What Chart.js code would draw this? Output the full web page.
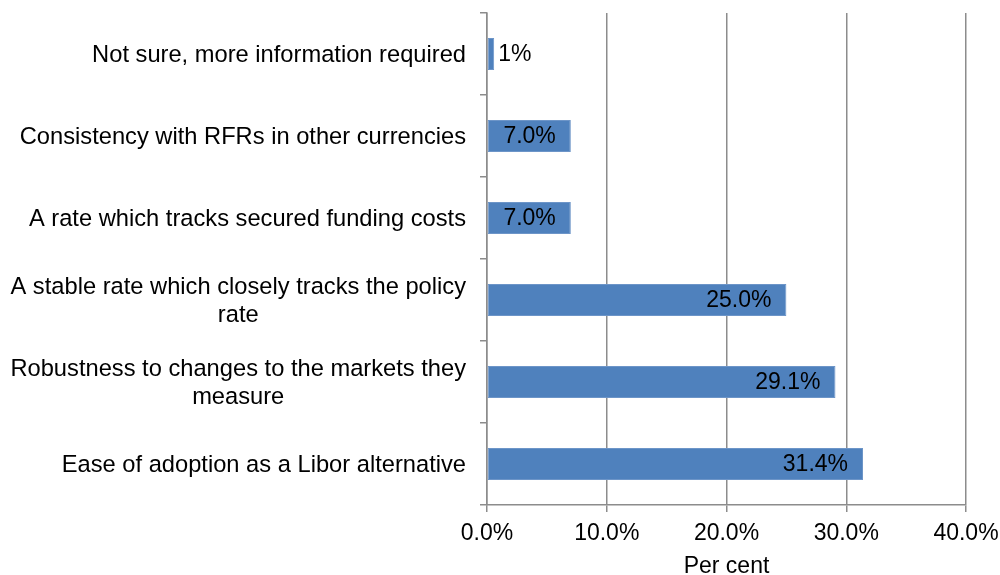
<!DOCTYPE html>
<html>
<head>
<meta charset="utf-8">
<script src="https://cdn.jsdelivr.net/npm/chart.js@4/dist/chart.umd.min.js"></script>
<style>
  html, body { margin: 0; background: #fff; }
  #wrap { width: 1000px; height: 575px; }
</style>
</head>
<body>
<div id="wrap"><canvas id="chart"></canvas></div>
<script>
// Survey: preferred characteristics of a Libor alternative (per cent)
const categories = [
  ["Not sure, more information required"],
  ["Consistency with RFRs in other currencies"],
  ["A rate which tracks secured funding costs"],
  ["A stable rate which closely tracks the policy", "rate"],
  ["Robustness to changes to the markets they", "measure"],
  ["Ease of adoption as a Libor alternative"],
];
const values = [0.6, 7.0, 7.0, 25.0, 29.1, 31.4];
const valueLabels = ["1%", "7.0%", "7.0%", "25.0%", "29.1%", "31.4%"];
const xTicks = [0, 10, 20, 30, 40];

const FONT = "'Liberation Sans', Arial, sans-serif";
const FONT_SIZE = 23;
const CAT_FONT_SIZE = 23.7;
const GRID = "#8c8c8c";

// y labels: block right-aligned to the axis, lines centred inside the block;
// value labels: inside the bar end, or just outside when the bar is too short
const labelPlugin = {
  id: "labels",
  afterDraw(chart) {
    const ctx = chart.ctx;
    const yScale = chart.scales.y;
    const meta = chart.getDatasetMeta(0);
    ctx.save();
    ctx.fillStyle = "#000";
    ctx.textBaseline = "middle";

    ctx.font = `${CAT_FONT_SIZE}px ${FONT}`;
    const right = chart.chartArea.left - 21;
    const lineH = 28;
    categories.forEach((lines, i) => {
      const cy = yScale.getPixelForTick(i) + 1;
      const w = Math.max(...lines.map((l) => ctx.measureText(l).width));
      const cx = right - w / 2;
      ctx.textAlign = "center";
      lines.forEach((l, j) => {
        ctx.fillText(l, cx, cy + (j - (lines.length - 1) / 2) * lineH);
      });
    });

    ctx.font = `${FONT_SIZE}px ${FONT}`;
    meta.data.forEach((bar, i) => {
      const text = valueLabels[i];
      const tw = ctx.measureText(text).width;
      const len = bar.x - bar.base;
      if (len > tw + 20) {
        ctx.textAlign = "right";
        ctx.fillText(text, bar.x - 15, bar.y + 1);
      } else {
        ctx.textAlign = "left";
        ctx.fillText(text, bar.x + 4, bar.y + 1);
      }
    });
    ctx.restore();
  },
};

new Chart(document.getElementById("chart"), {
  type: "bar",
  data: {
    labels: categories.map((c) => c.join(" ")),
    datasets: [
      {
        data: values,
        backgroundColor: "#4f81bd",
        borderColor: "#6d95c8",
        borderWidth: 1,
        borderSkipped: false,
        barPercentage: 0.39,
        categoryPercentage: 1,
      },
    ],
  },
  options: {
    indexAxis: "y",
    responsive: true,
    maintainAspectRatio: false,
    animation: false,
    layout: { padding: { top: 13, left: 0, right: 0, bottom: 0 } },
    plugins: { legend: { display: false }, tooltip: { enabled: false } },
    scales: {
      x: {
        min: 0,
        max: 40,
        afterBuildTicks: (s) => { s.ticks = xTicks.map((v) => ({ value: v })); },
        afterFit: (s) => { s.height = 70; s.paddingRight = 34; },
        ticks: {
          callback: (v) => v.toFixed(1) + "%",
          color: "#000",
          font: { family: FONT, size: FONT_SIZE },
          padding: 8,
          maxRotation: 0,
        },
        grid: { color: GRID, lineWidth: 1.5, drawTicks: true, tickLength: 7, tickColor: GRID },
        border: { color: GRID, width: 1.5 },
        title: {
          display: true,
          text: "Per cent",
          color: "#000",
          font: { family: FONT, size: FONT_SIZE },
          padding: { top: 0, bottom: -5 },
        },
      },
      y: {
        afterFit: (s) => { s.width = 487; },
        ticks: { display: false },
        grid: { drawOnChartArea: false, drawTicks: true, tickLength: 7, color: GRID, lineWidth: 1.5, offset: true },
        border: { color: GRID, width: 1.5 },
      },
    },
  },
  plugins: [labelPlugin],
});
</script>
</body>
</html>
